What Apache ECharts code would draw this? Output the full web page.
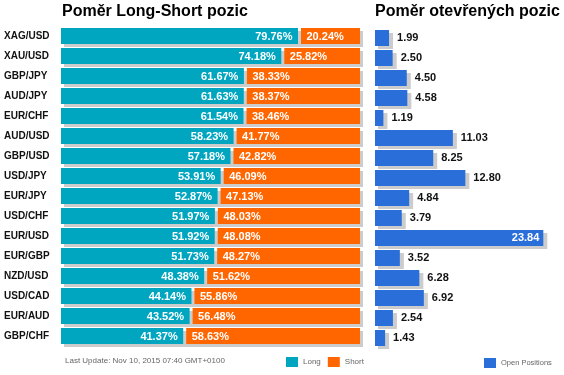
<!DOCTYPE html>
<html>
<head>
<meta charset="utf-8">
<script src="https://cdn.jsdelivr.net/npm/echarts@6/dist/echarts.min.js"></script>
<style>
  html, body { margin: 0; padding: 0; background: #fff; }
  #main { width: 564px; height: 375px; }
</style>
</head>
<body>
<div id="main"></div>
<script>
var pairs = ["XAG/USD", "XAU/USD", "GBP/JPY", "AUD/JPY", "EUR/CHF", "AUD/USD", "GBP/USD", "USD/JPY",
             "EUR/JPY", "USD/CHF", "EUR/USD", "EUR/GBP", "NZD/USD", "USD/CAD", "EUR/AUD", "GBP/CHF"];
var longPct = [79.76, 74.18, 61.67, 61.63, 61.54, 58.23, 57.18, 53.91, 52.87, 51.97, 51.92, 51.73, 48.38, 44.14, 43.52, 41.37];
var shortPct = [20.24, 25.82, 38.33, 38.37, 38.46, 41.77, 42.82, 46.09, 47.13, 48.03, 48.08, 48.27, 51.62, 55.86, 56.48, 58.63];
var openPos = [1.99, 2.50, 4.50, 4.58, 1.19, 11.03, 8.25, 12.80, 4.84, 3.79, 23.84, 3.52, 6.28, 6.92, 2.54, 1.43];

var TEAL = "#00a6c0", ORANGE = "#ff6600", BLUE = "#2a6fd9", SHADOW = "#cccccc";
var FONT = "'Liberation Sans', Arial, sans-serif";

var chart = echarts.init(document.getElementById("main"));

// rows for the long/short custom series: [long, index, short]
function makeRows() {
    var r = [];
    for (var i = 0; i < pairs.length; i++) r.push([longPct[i], i, shortPct[i]]);
    return r;
}
// rows for the open positions shadow: [value, index]
var openRows = [];
for (var i = 0; i < pairs.length; i++) openRows.push([openPos[i], i]);

// the biggest bar keeps its label inside, like the original
var openData = openPos.map(function (v) {
    if (v > 20) {
        return { value: v, label: { position: "insideRight", color: "#fff", distance: 4 } };
    }
    return v;
});

function barH(api) {
    return api.size([0, 1])[1] * 0.8;
}

function renderShadow(params, api) {
    var i = api.value(1);
    var p0 = api.coord([0, i]), p1 = api.coord([100, i]);
    var h = barH(api);
    return {
        type: "rect",
        shape: { x: p0[0] + 3, y: p0[1] - h / 2 + 3, width: p1[0] - p0[0], height: h },
        style: { fill: SHADOW }
    };
}

function renderOpenShadow(params, api) {
    var v = api.value(0), i = api.value(1);
    var p0 = api.coord([0, i]), p1 = api.coord([v, i]);
    var h = barH(api);
    return {
        type: "rect",
        shape: { x: p0[0] + 3, y: p0[1] - h / 2 + 3, width: p1[0] - p0[0] + 1, height: h },
        style: { fill: SHADOW }
    };
}

function renderLong(params, api) {
    var v = api.value(0), i = api.value(1);
    var p0 = api.coord([0, i]), p1 = api.coord([v, i]);
    var h = barH(api);
    return {
        type: "group",
        children: [
            {
                type: "rect",
                shape: { x: p0[0], y: p0[1] - h / 2, width: p1[0] - p0[0] - 1.5, height: h },
                style: { fill: TEAL }
            },
            {
                type: "text",
                style: {
                    text: v.toFixed(2) + "%", x: p1[0] - 7, y: p0[1] + 1,
                    align: "right", verticalAlign: "middle", fill: "#fff",
                    fontSize: 11, fontWeight: "bold", fontFamily: FONT
                }
            }
        ]
    };
}

function renderShort(params, api) {
    var l = api.value(0), i = api.value(1), s = api.value(2);
    var p0 = api.coord([l, i]), p1 = api.coord([100, i]);
    var h = barH(api);
    return {
        type: "group",
        children: [
            {
                type: "rect",
                shape: { x: p0[0] + 1.5, y: p0[1] - h / 2, width: p1[0] - p0[0] - 1.5, height: h },
                style: { fill: ORANGE }
            },
            {
                type: "text",
                style: {
                    text: s.toFixed(2) + "%", x: p0[0] + 7, y: p0[1] + 1,
                    align: "left", verticalAlign: "middle", fill: "#fff",
                    fontSize: 11, fontWeight: "bold", fontFamily: FONT
                }
            }
        ]
    };
}

var option = {
    backgroundColor: "#fff",
    animation: false,
    textStyle: { fontFamily: FONT },
    title: [
        { text: "Poměr Long-Short pozic", left: 62, top: 4, padding: 0,
          textStyle: { fontSize: 16, fontWeight: "bold", color: "#000", fontFamily: FONT } },
        { text: "Poměr otevřených pozic", left: 375, top: 4, padding: 0,
          textStyle: { fontSize: 16, fontWeight: "bold", color: "#000", fontFamily: FONT } }
    ],
    legend: [
        {
            data: ["Long", "Short"],
            left: 286, top: 357, padding: 0,
            itemWidth: 12, itemHeight: 10, itemGap: 7,
            icon: "rect",
            textStyle: { fontSize: 8, color: "#666" }
        },
        {
            data: ["Open Positions"],
            left: 484, top: 358, padding: 0,
            itemWidth: 12, itemHeight: 10,
            icon: "rect",
            textStyle: { fontSize: 7.5, color: "#666" }
        }
    ],
    grid: [
        { left: 61, top: 26, width: 299, height: 320 },
        { left: 375, top: 28, width: 176.5, height: 320 }
    ],
    xAxis: [
        { gridIndex: 0, type: "value", min: 0, max: 100, show: false },
        { gridIndex: 1, type: "value", min: 0, max: 25, show: false }
    ],
    yAxis: [
        {
            gridIndex: 0, type: "category", data: pairs, inverse: true,
            axisLine: { show: false }, axisTick: { show: false }, splitLine: { show: false },
            axisLabel: {
                margin: 57, align: "left", color: "#111",
                fontSize: 10, fontWeight: "bold", fontFamily: FONT,
                padding: [0, 0, 4, 0]
            }
        },
        {
            gridIndex: 1, type: "category", data: pairs, inverse: true, show: false
        }
    ],
    graphic: [
        {
            type: "text", left: 65, top: 357,
            style: { text: "Last Update: Nov 10, 2015 07:40 GMT+0100", fill: "#666",
                     fontSize: 8, fontFamily: FONT }
        }
    ],
    series: [
        {
            name: "shadow", type: "custom", xAxisIndex: 0, yAxisIndex: 0, z: 1, clip: false,
            renderItem: renderShadow, data: makeRows(), silent: true, itemStyle: { color: SHADOW }
        },
        {
            name: "Long", type: "custom", xAxisIndex: 0, yAxisIndex: 0, z: 2,
            renderItem: renderLong, data: makeRows(), itemStyle: { color: TEAL }
        },
        {
            name: "Short", type: "custom", xAxisIndex: 0, yAxisIndex: 0, z: 3,
            renderItem: renderShort, data: makeRows(), itemStyle: { color: ORANGE }
        },
        {
            name: "openShadow", type: "custom", xAxisIndex: 1, yAxisIndex: 1, z: 1, clip: false,
            renderItem: renderOpenShadow, data: openRows, silent: true, itemStyle: { color: SHADOW }
        },
        {
            name: "Open Positions", type: "bar", xAxisIndex: 1, yAxisIndex: 1, z: 2,
            data: openData, barWidth: 16,
            itemStyle: { color: BLUE },
            label: {
                show: true, position: "right", distance: 8,
                color: "#111", fontSize: 11, fontWeight: "bold", fontFamily: FONT,
                formatter: function (p) { return p.value.toFixed(2); }
            }
        }
    ]
};

chart.setOption(option);
</script>
</body>
</html>
